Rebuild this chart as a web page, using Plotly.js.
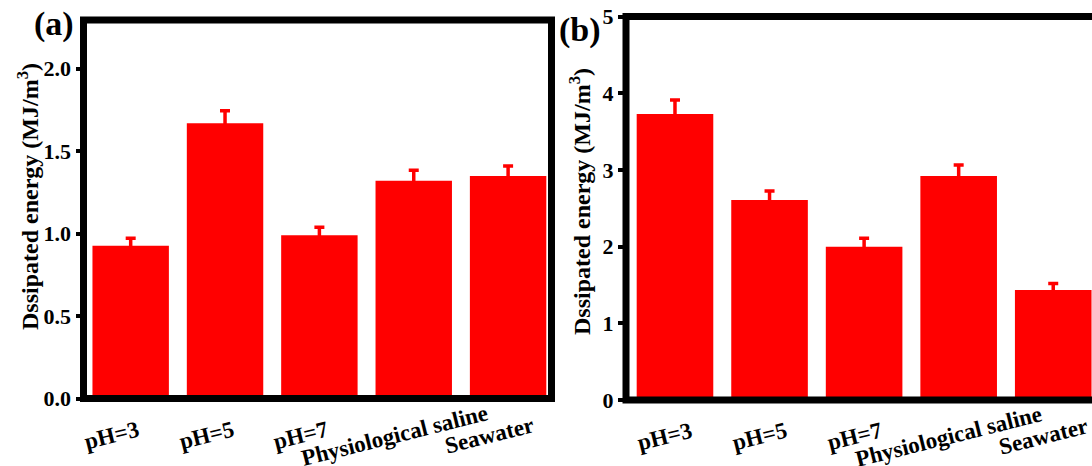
<!DOCTYPE html>
<html>
<head>
<meta charset="utf-8">
<script src="https://cdn.plot.ly/plotly-3.0.1.min.js"></script>
<style>html,body{margin:0;padding:0;background:#fff}#chart{width:1092px;height:466px}</style>
</head>
<body>
<div id="chart"></div>
<script>
const categories = ["pH=3", "pH=5", "pH=7", "Physiological saline", "Seawater"];
const energyA = [0.926, 1.668, 0.989, 1.320, 1.348];
const errorA  = [0.045, 0.076, 0.049, 0.063, 0.061];
const energyB = [3.729, 2.608, 1.999, 2.920, 1.434];
const errorB  = [0.182, 0.117, 0.109, 0.144, 0.085];
const ticksA = [0, 0.5, 1.0, 1.5, 2.0];
const ticksB = [0, 1, 2, 3, 4, 5];
const yTitle = "Dssipated energy (MJ/m<sup>3</sup>)";

const W = 1092, H = 466;
const px = v => v / W;
const py = v => 1 - v / H;

const FONT = "Liberation Serif";
const RED = "#ff0000";

function barTrace(y, err, xa, ya) {
  return {
    type: "bar", x: categories, y: y, xaxis: xa, yaxis: ya,
    width: 0.81,
    marker: {color: RED, line: {width: 0}},
    error_y: {type: "data", array: err, visible: true, color: RED, thickness: 3.5, width: 5},
    hoverinfo: "x+y", showlegend: false
  };
}

const data = [
  barTrace(energyA, errorA, "x", "y"),
  barTrace(energyB, errorB, "x2", "y2")
];

const tickFont = {family: FONT, size: 22, color: "#000", weight: "bold"};
const axisCommon = {showgrid: false, zeroline: false, showline: false, fixedrange: true};

const annotations = [];
categories.forEach((c) => {
  annotations.push({x: c, xref: "x", y: py(435), yref: "paper", text: c, showarrow: false,
    xanchor: "center", yanchor: "middle", xshift: -19, textangle: -14,
    font: {family: FONT, size: 23, color: "#000", weight: "bold"}});
  annotations.push({x: c, xref: "x2", y: py(436), yref: "paper", text: c, showarrow: false,
    xanchor: "center", yanchor: "middle", xshift: -10, textangle: -14,
    font: {family: FONT, size: 23, color: "#000", weight: "bold"}});
});
annotations.push({x: px(28), y: py(197), xref: "paper", yref: "paper", text: yTitle, textangle: -90,
  showarrow: false, xanchor: "center", yanchor: "middle",
  font: {family: FONT, size: 24, color: "#000", weight: "bold"}});
annotations.push({x: px(580), y: py(202), xref: "paper", yref: "paper", text: yTitle, textangle: -90,
  showarrow: false, xanchor: "center", yanchor: "middle",
  font: {family: FONT, size: 24, color: "#000", weight: "bold"}});
annotations.push({x: px(54), y: py(24), xref: "paper", yref: "paper", text: "(a)", showarrow: false,
  xanchor: "center", yanchor: "middle", font: {family: FONT, size: 34, color: "#000", weight: "bold"}});
annotations.push({x: px(580), y: py(30), xref: "paper", yref: "paper", text: "(b)", showarrow: false,
  xanchor: "center", yanchor: "middle", font: {family: FONT, size: 34, color: "#000", weight: "bold"}});

const layout = {
  width: W, height: H,
  margin: {l: 0, r: 0, t: 0, b: 0, pad: 0},
  paper_bgcolor: "#fff", plot_bgcolor: "rgba(0,0,0,0)",
  font: {family: FONT},
  xaxis: Object.assign({}, axisCommon, {domain: [px(83.5), px(551.5)], range: [-0.50, 4.46],
    showticklabels: false, ticks: "", anchor: "y"}),
  yaxis: Object.assign({}, axisCommon, {domain: [py(398.5), py(20)], range: [0, 2.294],
    tickvals: ticksA, ticktext: ticksA.map(v => v.toFixed(1)), ticks: "outside", ticklen: 7, tickwidth: 4,
    tickcolor: "#000", tickfont: tickFont, anchor: "x"}),
  xaxis2: Object.assign({}, axisCommon, {domain: [px(626), 1], range: [-0.518, 4.41],
    showticklabels: false, ticks: "", anchor: "y2"}),
  yaxis2: Object.assign({}, axisCommon, {domain: [py(400), py(16.5)], range: [0, 5.0],
    tickvals: ticksB, ticktext: ticksB.map(String), ticks: "outside", ticklen: 7, tickwidth: 4,
    tickcolor: "#000", tickfont: tickFont, anchor: "x2"}),
  shapes: [
    {type: "rect", xref: "x domain", yref: "y domain", x0: 0, x1: 1, y0: 0, y1: 1,
     line: {color: "#000", width: 7}, fillcolor: "rgba(0,0,0,0)", layer: "above"},
    {type: "rect", xref: "x2 domain", yref: "y2 domain", x0: 0, x1: 1.05, y0: 0, y1: 1,
     line: {color: "#000", width: 7}, fillcolor: "rgba(0,0,0,0)", layer: "above"}
  ],
  annotations: annotations
};

Plotly.newPlot("chart", data, layout, {displayModeBar: false, staticPlot: true});
</script>
</body>
</html>
